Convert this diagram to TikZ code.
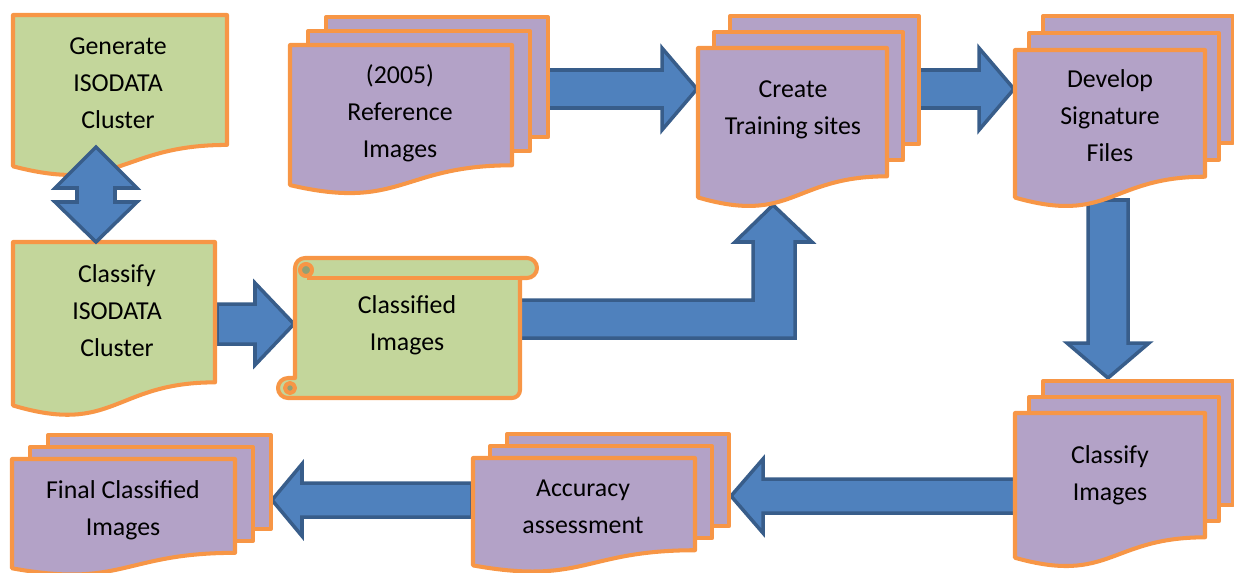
\documentclass[tikz,border=0pt]{standalone}
\usepackage{fontspec}
\setmainfont{Carlito}
\usetikzlibrary{calc}

\definecolor{boxgreen}{HTML}{C3D69B}
\definecolor{boxpurple}{HTML}{B3A2C7}
\definecolor{boxorange}{HTML}{F79646}
\definecolor{arrowblue}{HTML}{4F81BD}
\definecolor{arrowedge}{HTML}{385D8A}

\tikzset{
  greenbox/.style={draw=boxorange, line width=2.3pt, fill=boxgreen, line join=round},
  purplebox/.style={draw=boxorange, line width=2.3pt, fill=boxpurple, line join=round},
  blockarrow/.style={draw=arrowedge, line width=2pt, fill=arrowblue},
  boxtext/.style={align=center, font=\fontsize{14.7}{21}\selectfont, text=black}
}

% one page with a wavy bottom: style, left, top, width, height
\newcommand\docpage[5]{%
  \draw[#1] (#2,#3) -- ({#2+#4},#3) -- ({#2+#4},{#3+0.802*#5})
    .. controls ({#2+0.5*#4},{#3+0.802*#5}) and ({#2+0.5*#4},{#3+1.107*#5}) .. (#2,{#3+0.934*#5}) -- cycle;}

% stack of three pages: left, top, width, height, shift x, shift y
\newcommand\multidoc[6]{%
  \draw[purplebox] ({#1+2*#5},{#2-2*#6}) rectangle ({#1+2*#5+#3},{#2+0.802*#4-2*#6});
  \draw[purplebox] ({#1+#5},{#2-#6}) rectangle ({#1+#5+#3},{#2+0.802*#4-#6});
  \docpage{purplebox}{#1}{#2}{#3}{#4}}

% block arrows: tail, tip, half shaft, half head, head length
\newcommand\harrow[5]{%
  \draw[blockarrow] ($(#1)+(0,-#3)$) -- ($(#2)+({0-(#5)},-#3)$) -- ($(#2)+({0-(#5)},-#4)$) -- (#2)
    -- ($(#2)+({0-(#5)},#4)$) -- ($(#2)+({0-(#5)},#3)$) -- ($(#1)+(0,#3)$) -- cycle;}
\newcommand\varrow[5]{%
  \draw[blockarrow] ($(#1)+(-#3,0)$) -- ($(#2)+(-#3,{0-(#5)})$) -- ($(#2)+(-#4,{0-(#5)})$) -- (#2)
    -- ($(#2)+(#4,{0-(#5)})$) -- ($(#2)+(#3,{0-(#5)})$) -- ($(#1)+(#3,0)$) -- cycle;}

\begin{document}
\begin{tikzpicture}[x=0.02cm, y=-0.02cm]
  \useasboundingbox (0,0) rectangle (1234,572);

  % arrow ends
  \coordinate (isoout) at (217,324);
  \coordinate (mapin) at (294,324);
  \coordinate (refout) at (548,89);
  \coordinate (trainin) at (697,89);
  \coordinate (trainout) at (918,89);
  \coordinate (sigin) at (1014,89);
  \coordinate (sigout) at (1108,200);
  \coordinate (clsin) at (1108,378);
  \coordinate (clsout) at (1015,496);
  \coordinate (accin) at (731,496);
  \coordinate (accout) at (472,500);
  \coordinate (finalin) at (272,500);
  \coordinate (mapout) at (518,319);
  \coordinate (trainup) at (773,205);
  \coordinate (dtop) at (96,147);
  \coordinate (dbot) at (96,242);

  % arrows behind the boxes
  \harrow{refout}{trainin}{19}{41}{35}
  \harrow{trainout}{sigin}{19}{41}{35}
  \varrow{sigout}{clsin}{20}{41}{35}
  \harrow{isoout}{mapin}{20}{41}{39}
  \harrow{clsout}{accin}{17}{37}{-32}
  \harrow{accout}{finalin}{17}{36}{-30}
  \draw[blockarrow] (mapout) ++(0,-19) -- ++(235,0) -- ++(0,-58) -- ++(-18,0) -- (trainup)
    -- ++(39,37) -- ++(-17,0) -- ++(0,96) -- ++(-277,0) -- cycle;

  % green boxes
  \docpage{greenbox}{13}{15}{214}{162}
  \docpage{greenbox}{13}{242}{202}{175}

  % two way arrow
  \draw[blockarrow] (dtop) -- ++(41,41) -- ++(-22,0) -- ++(0,14) -- ++(22,0) -- (dbot)
    -- ++(-41,-40) -- ++(22,0) -- ++(0,-14) -- ++(-22,0) -- cycle;

  % scroll
  \draw[greenbox] (295,378) -- (295,268) arc[start angle=180, end angle=270, radius=10]
    -- (527,258) arc[start angle=270, end angle=450, radius=10] -- (520,278)
    -- (520,390) arc[start angle=0, end angle=90, radius=8]
    -- (288,398) arc[start angle=90, end angle=270, radius=10] -- cycle;
  \draw[greenbox] (307,278) -- (520,278);
  \draw[greenbox, fill=boxgreen!75!black] (306,270) circle (6);
  \draw[greenbox, fill=boxgreen!75!black] (290,388) circle (5);

  % page stacks
  \multidoc{290}{45}{222}{150}{18}{14}
  \multidoc{698}{48}{189}{160}{16}{16}
  \multidoc{1015}{50}{190}{158}{14}{17}
  \multidoc{1015}{413}{190}{155}{14}{16}
  \multidoc{473}{458}{222}{115}{17}{12}
  \multidoc{12}{459}{223}{117}{18}{12}

  % texts
  \node[boxtext] (gen) at (118,83) {Generate\\ISODATA\\Cluster};
  \node[boxtext] (clsiso) at (117,311) {Classify\\ISODATA\\Cluster};
  \node[boxtext] (refimg) at (400,113) {(2005)\\Reference\\Images};
  \node[boxtext] (train) at (793,110) {Create\\Training sites};
  \node[boxtext] (sig) at (1110,116) {Develop\\Signature\\Files};
  \node[boxtext] (clsmap) at (407,325) {Classified\\Images};
  \node[boxtext] (clsimg) at (1110,475) {Classify\\Images};
  \node[boxtext] (acc) at (583,507) {Accuracy\\assessment};
  \node[boxtext] (final) at (123,510) {Final Classified\\Images};
\end{tikzpicture}
\end{document}
